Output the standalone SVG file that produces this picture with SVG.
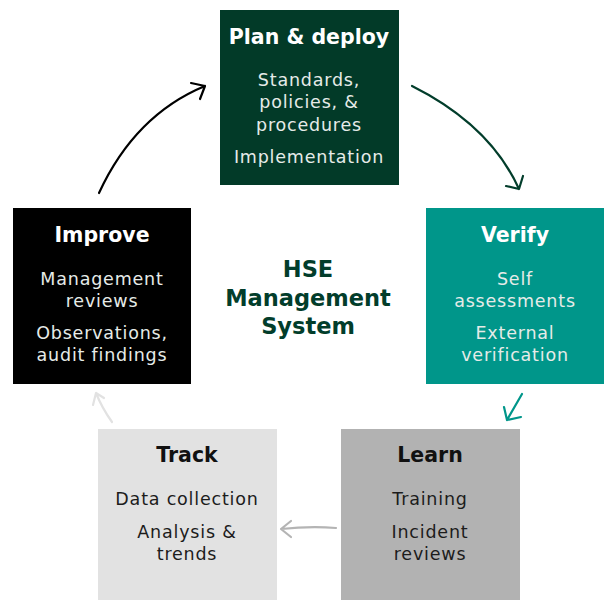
<svg xmlns="http://www.w3.org/2000/svg" width="604" height="600" viewBox="0 0 604 600">
<style>
.t{font-family:"DejaVu Sans",sans-serif;font-weight:700;font-size:20.5px;text-anchor:middle}
.b{font-family:"DejaVu Sans",sans-serif;font-weight:400;font-size:17.5px;letter-spacing:0.8px;text-anchor:middle}
.w{fill:#ffffff}
.wb{fill:#e6ebe8}
.k{fill:#111111}
.kb{fill:#1c1c1c}
.c{font-family:"DejaVu Sans",sans-serif;font-weight:700;font-size:22.5px;text-anchor:middle;fill:#023d2b}
.ar{fill:none;stroke-width:2.2;stroke-linecap:round;stroke-linejoin:round}
</style>
<rect width="604" height="600" fill="#ffffff"/>
<g id="connectors">
<path class="ar" stroke="#000" d="M99 193 Q135 115 205 86 M191 83 L205 86 L200 99"/>
<path class="ar" stroke="#023d2b" d="M412 86 Q490 125 519 189 M506 186 L519 189 L523 176"/>
<path class="ar" stroke="#00968a" d="M522 394 L507 420 M504 407 L507 420 L521 417"/>
<path class="ar" stroke="#b4b4b4" d="M336 528 Q310 526 281 529 M291 521 L281 529 L291 537"/>
<path class="ar" stroke="#e2e2e2" d="M112 422 Q102 408 96 393 M93 405 L96 393 L104 398"/>
</g>
<g id="plan">
<rect x="220" y="10" width="179" height="175" fill="#023a28"/>
<text class="t w" x="309" y="44">Plan &amp; deploy</text>
<text class="b wb" x="309" y="86">Standards,</text>
<text class="b wb" x="309" y="108">policies, &amp;</text>
<text class="b wb" x="309" y="131">procedures</text>
<text class="b wb" x="309" y="163">Implementation</text>
</g>
<g id="verify">
<rect x="426" y="208" width="178" height="176" fill="#00968a"/>
<text class="t w" x="515" y="242">Verify</text>
<text class="b wb" x="515" y="285">Self</text>
<text class="b wb" x="515" y="307">assessments</text>
<text class="b wb" x="515" y="339">External</text>
<text class="b wb" x="515" y="361">verification</text>
</g>
<g id="improve">
<rect x="13" y="208" width="178" height="176" fill="#000000"/>
<text class="t w" x="102" y="242">Improve</text>
<text class="b wb" x="102" y="285">Management</text>
<text class="b wb" x="102" y="307">reviews</text>
<text class="b wb" x="102" y="339">Observations,</text>
<text class="b wb" x="102" y="361">audit findings</text>
</g>
<g id="track">
<rect x="98" y="429" width="179" height="171" fill="#e2e2e2"/>
<text class="t k" x="187" y="462">Track</text>
<text class="b kb" x="187" y="505">Data collection</text>
<text class="b kb" x="187" y="538">Analysis &amp;</text>
<text class="b kb" x="187" y="560">trends</text>
</g>
<g id="learn">
<rect x="341" y="429" width="179" height="171" fill="#b2b2b2"/>
<text class="t k" x="430" y="462">Learn</text>
<text class="b kb" x="430" y="505">Training</text>
<text class="b kb" x="430" y="538">Incident</text>
<text class="b kb" x="430" y="560">reviews</text>
</g>
<g id="center">
<text class="c" x="308" y="277">HSE</text>
<text class="c" x="308" y="306">Management</text>
<text class="c" x="308" y="334">System</text>
</g>
</svg>
